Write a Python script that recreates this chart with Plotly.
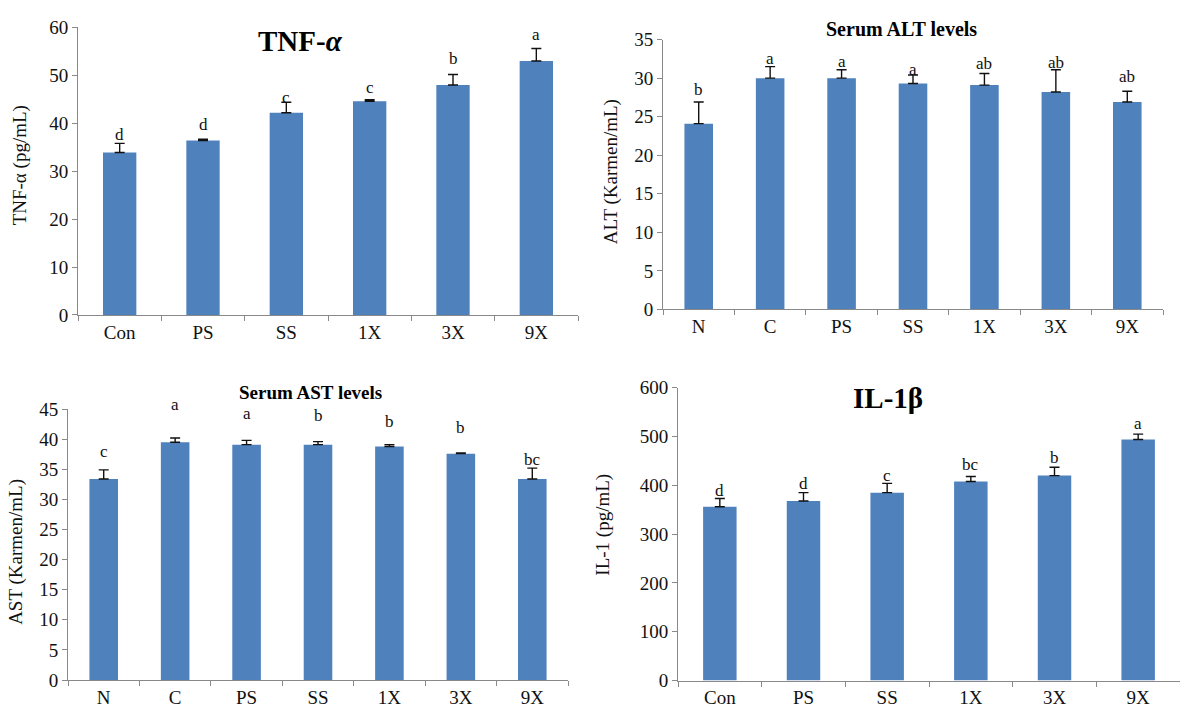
import plotly.graph_objects as go

# ---- data ----
tnf_groups = ["Con", "PS", "SS", "1X", "3X", "9X"]
tnf_mean = [33.9, 36.4, 42.2, 44.6, 48.0, 53.0]
tnf_sd = [1.9, 0.3, 2.2, 0.3, 2.2, 2.6]
tnf_letters = ["d", "d", "c", "c", "b", "a"]
tnf_letter_y = [37.7, 39.7, 45.4, 47.5, 53.6, 58.6]

alt_groups = ["N", "C", "PS", "SS", "1X", "3X", "9X"]
alt_mean = [24.1, 30.0, 30.0, 29.3, 29.1, 28.2, 26.9]
alt_sd = [2.8, 1.5, 1.1, 1.1, 1.5, 2.9, 1.4]
alt_letters = ["b", "a", "a", "a", "ab", "ab", "ab"]
alt_letter_y = [28.5, 32.5, 32.1, 31.1, 31.9, 32.0, 30.2]

ast_groups = ["N", "C", "PS", "SS", "1X", "3X", "9X"]
ast_mean = [33.4, 39.5, 39.1, 39.1, 38.8, 37.6, 33.4]
ast_sd = [1.5, 0.7, 0.7, 0.5, 0.3, 0.1, 1.8]
ast_letters = ["c", "a", "a", "b", "b", "b", "bc"]
ast_letter_y = [37.9, 45.7, 44.3, 43.9, 43.0, 42.0, 36.7]

il_groups = ["Con", "PS", "SS", "1X", "3X", "9X"]
il_mean = [356, 368, 385, 408, 420, 494]
il_sd = [17, 17, 19, 10, 17, 11]
il_letters = ["d", "d", "c", "bc", "b", "a"]
il_letter_y = [389, 403, 420, 442, 457, 526]

# ---- styling ----
W, H = 1180, 726
FONT = "Liberation Serif, Times New Roman, serif"
BAR = "#4F81BD"
AXIS = "#898989"
TXT = "#111111"


def px_x(p):
    return p / W


def px_y(p):
    return 1 - p / H


fig = go.Figure()
annotations = []

panels = [
    dict(g=tnf_groups, m=tnf_mean, s=tnf_sd, l=tnf_letters, ly=tnf_letter_y,
         xs=(78, 578), ys=(18, 314), rng=60, dt=10,
         title="<b>TNF-<i>α</i></b>", tpos=(300, 32), tsize=29,
         ylab="TNF-α (pg/mL)", ypos=(20, 160)),
    dict(g=alt_groups, m=alt_mean, s=alt_sd, l=alt_letters, ly=alt_letter_y,
         xs=(663, 1163), ys=(30.5, 308.3), rng=35, dt=5,
         title="<b>Serum ALT levels</b>", tpos=(901, 20), tsize=20,
         ylab="ALT (Karmen/mL)", ypos=(611, 167)),
    dict(g=ast_groups, m=ast_mean, s=ast_sd, l=ast_letters, ly=ast_letter_y,
         xs=(68, 568), ys=(411, 690), rng=45, dt=5,
         title="<b>Serum AST levels</b>", tpos=(310, 394), tsize=19,
         ylab="AST (Karmen/mL)", ypos=(16, 558)),
    dict(g=il_groups, m=il_mean, s=il_sd, l=il_letters, ly=il_letter_y,
         xs=(678, 1180), ys=(389, 690.5), rng=600, dt=100,
         title="<b>IL-1β</b>", tpos=(888, 400), tsize=29,
         ylab="IL-1 (pg/mL)", ypos=(603, 530)),
]

layout_axes = {}
for i, p in enumerate(panels, start=1):
    sfx = "" if i == 1 else str(i)
    xref, yref = "x" + sfx, "y" + sfx
    fig.add_trace(go.Bar(
        x=p["g"], y=p["m"], xaxis=xref, yaxis=yref,
        marker=dict(color=BAR, line=dict(width=0)),
        width=0.4,
        error_y=dict(type="data", symmetric=False, array=p["s"],
                     arrayminus=[0] * len(p["s"]),
                     color=TXT, thickness=1.4, width=5),
        showlegend=False,
    ))
    layout_axes["xaxis" + sfx] = dict(
        domain=[px_x(p["xs"][0]), px_x(p["xs"][1])],
        anchor=yref, type="category", categoryorder="array", categoryarray=p["g"],
        showline=True, linecolor=AXIS, linewidth=1,
        ticks="outside", tickson="boundaries", ticklen=5, tickcolor=AXIS,
        tickfont=dict(family=FONT, size=19, color=TXT),
        showgrid=False, zeroline=False, fixedrange=True,
    )
    layout_axes["yaxis" + sfx] = dict(
        domain=[px_y(p["ys"][1]), px_y(p["ys"][0])],
        anchor=xref, range=[0, p["rng"]], dtick=p["dt"], tick0=0,
        showline=True, linecolor=AXIS, linewidth=1,
        ticks="outside", ticklen=5, tickcolor=AXIS,
        tickfont=dict(family=FONT, size=19, color=TXT),
        showgrid=False, zeroline=False, fixedrange=True,
    )
    # significance letters, placed on the axis domain so ones above the range still show
    for g, letter, yy in zip(p["g"], p["l"], p["ly"]):
        annotations.append(dict(
            x=g, y=yy / p["rng"], xref=xref, yref=yref + " domain",
            text=letter, showarrow=False,
            font=dict(family=FONT, size=17, color=TXT),
            xanchor="center", yanchor="middle",
        ))
    # panel title
    annotations.append(dict(
        x=px_x(p["tpos"][0]), y=px_y(p["tpos"][1]), xref="paper", yref="paper",
        text=p["title"], showarrow=False,
        font=dict(family=FONT, size=p["tsize"], color="#000000"),
        xanchor="center", yanchor="middle",
    ))
    # y-axis title
    annotations.append(dict(
        x=px_x(p["ypos"][0]), y=px_y(p["ypos"][1]), xref="paper", yref="paper",
        text=p["ylab"], showarrow=False, textangle=-90,
        font=dict(family=FONT, size=19, color=TXT),
        xanchor="center", yanchor="middle",
    ))

fig.update_layout(
    width=W, height=H,
    margin=dict(l=0, r=0, t=0, b=0),
    paper_bgcolor="white", plot_bgcolor="white",
    annotations=annotations,
    bargap=0.6,
    **layout_axes,
)

fig.write_html("out.html")
